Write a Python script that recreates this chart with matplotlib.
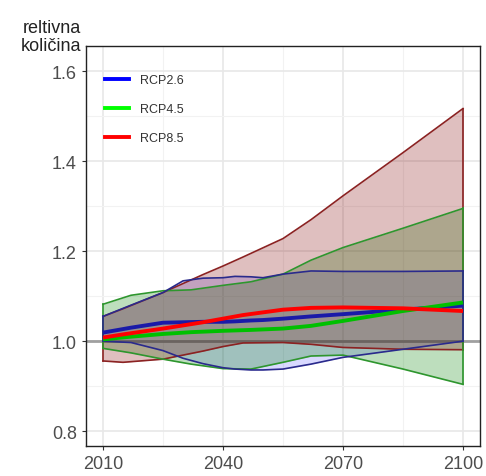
import matplotlib
matplotlib.use("Agg")
import matplotlib.pyplot as plt

plt.rcParams['font.family'] = ['Liberation Sans', 'DejaVu Sans']

# RCP2.6
years_26 = [2010, 2017, 2025, 2030, 2035, 2040, 2043, 2047, 2050, 2055, 2062, 2070, 2085, 2100]
upper_26 = [1.055, 1.080, 1.108, 1.134, 1.140, 1.141, 1.144, 1.143, 1.141, 1.149, 1.156, 1.155, 1.155, 1.156]
lower_26 = [1.000, 0.997, 0.979, 0.962, 0.950, 0.941, 0.938, 0.936, 0.936, 0.938, 0.949, 0.964, 0.982, 1.000]
mean_26 = [1.019, 1.030, 1.041, 1.042, 1.043, 1.043, 1.044, 1.046, 1.047, 1.050, 1.055, 1.060, 1.070, 1.079]

# RCP4.5
years_45 = [2010, 2017, 2025, 2032, 2040, 2047, 2055, 2062, 2070, 2085, 2100]
upper_45 = [1.082, 1.102, 1.112, 1.114, 1.124, 1.132, 1.149, 1.180, 1.208, 1.251, 1.295]
lower_45 = [0.984, 0.974, 0.960, 0.949, 0.939, 0.938, 0.953, 0.967, 0.969, 0.938, 0.904]
mean_45 = [1.004, 1.010, 1.016, 1.020, 1.023, 1.025, 1.028, 1.034, 1.045, 1.067, 1.086]

# RCP8.5
years_85 = [2010, 2015, 2025, 2035, 2040, 2045, 2055, 2062, 2070, 2085, 2100]
upper_85 = [1.055, 1.072, 1.108, 1.148, 1.167, 1.187, 1.228, 1.270, 1.323, 1.419, 1.517]
lower_85 = [0.956, 0.953, 0.960, 0.978, 0.988, 0.996, 0.997, 0.993, 0.986, 0.982, 0.981]
mean_85 = [1.008, 1.015, 1.028, 1.042, 1.050, 1.058, 1.070, 1.074, 1.075, 1.073, 1.067]

labels = ['RCP2.6', 'RCP4.5', 'RCP8.5']
x_ticks = [2010, 2040, 2070, 2100]
y_ticks = [0.8, 1.0, 1.2, 1.4, 1.6]

W, H = 486, 477
fig = plt.figure(figsize=(W / 100, H / 100), dpi=100)
ax = fig.add_axes([86 / W, 1 - 447 / H, 394 / W, 400 / H])

# grid
ax.set_xticks(x_ticks)
ax.set_xticks([2025, 2055, 2085], minor=True)
ax.set_yticks(y_ticks)
ax.set_yticks([0.9, 1.1, 1.3, 1.5], minor=True)
ax.grid(True, which='major', color='#e8e8e8', lw=1.2)
ax.grid(True, which='minor', color='#f2f2f2', lw=0.8)
ax.set_axisbelow(True)
ax.tick_params(which='minor', length=0)
ax.axhline(1.0, color='#a0a0a0', lw=2, zorder=1)

# bands (blue, green, then red on top)
ax.fill_between(years_26, lower_26, upper_26, color='#0000ff', alpha=0.15, lw=0, zorder=2)
ax.fill_between(years_45, lower_45, upper_45, color='#008000', alpha=0.26, lw=0, zorder=2)
ax.fill_between(years_85, lower_85, upper_85, color='#800000', alpha=0.25, lw=0, zorder=2)

edge_85 = '#8b2222'
edge_45 = '#2e962e'
edge_26 = '#2a2a8c'
for yrs, lo, hi, c in [(years_85, lower_85, upper_85, edge_85),
                       (years_45, lower_45, upper_45, edge_45),
                       (years_26, lower_26, upper_26, edge_26)]:
    ax.plot(yrs, hi, color=c, lw=1.2, zorder=3)
    ax.plot(yrs, lo, color=c, lw=1.2, zorder=3)
    ax.plot([yrs[-1], yrs[-1]], [lo[-1], hi[-1]], color=c, lw=1.2, zorder=3)
    ax.plot([yrs[0], yrs[0]], [lo[0], hi[0]], color=c, lw=1.2, zorder=3)

# means
ax.plot(years_26, mean_26, color='#1a1aa8', lw=2.8, zorder=4, solid_capstyle='butt')
ax.plot(years_45, mean_45, color='#00c000', lw=2.8, zorder=4, solid_capstyle='butt')
ax.plot(years_85, mean_85, color='#ff0000', lw=2.8, zorder=5, solid_capstyle='butt')

# legend
handles = [plt.Line2D([], [], color=c, lw=2.8) for c in ['#0000ff', '#00ff00', '#ff0000']]
leg = ax.legend(handles, labels, loc='upper left', frameon=False, fontsize=9,
                handlelength=1.9, labelspacing=1.38, handletextpad=0.9,
                borderaxespad=0, borderpad=0,
                bbox_to_anchor=(19 / 394, 1 - 28 / 400))
for t in leg.get_texts():
    t.set_color('#333333')

ax.set_xlim(2005.75, 2104.25)
ax.set_ylim(0.767, 1.656)
ax.set_yticklabels(['0.8', '1.0', '1.2', '1.4', '1.6'])
ax.tick_params(which='major', colors='#333333', labelcolor='#4d4d4d', labelsize=13, length=3)
for s in ax.spines.values():
    s.set_color('#222222')
    s.set_linewidth(1)

fig.text(81 / W, 1 - 33 / H, 'reltivna', ha='right', va='baseline', fontsize=13, color='#222222')
fig.text(81 / W, 1 - 51 / H, 'količina', ha='right', va='baseline', fontsize=13, color='#222222')

fig.savefig('out.png', dpi=100)
